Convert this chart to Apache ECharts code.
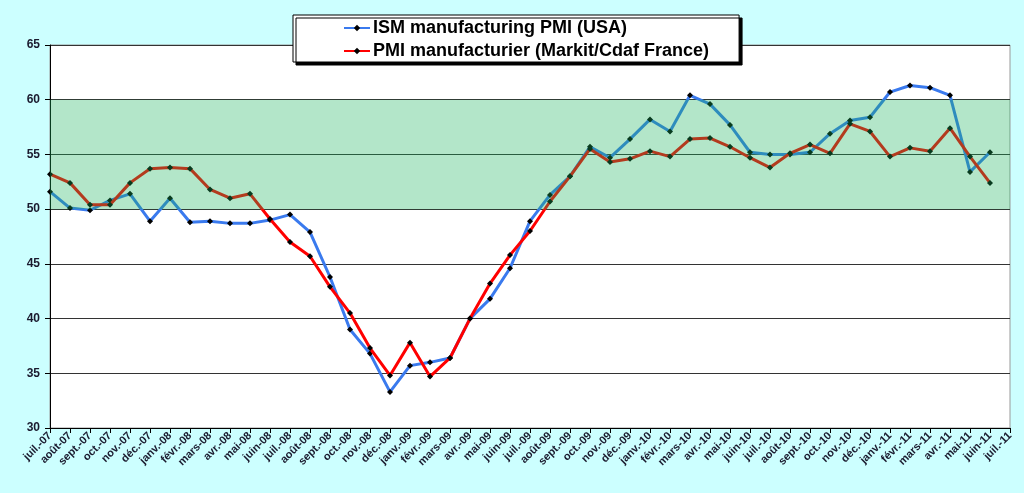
<!DOCTYPE html>
<html><head><meta charset="utf-8">
<script src="https://cdn.jsdelivr.net/npm/echarts@6/dist/echarts.min.js"></script>
<style>html,body{margin:0;padding:0;background:#CCFFFF;}#c{width:1024px;height:493px;}</style>
</head><body><div id="c"></div>
<script>
var months = ['juil.-07','août-07','sept.-07','oct.-07','nov.-07','déc.-07','janv.-08','févr.-08','mars-08','avr.-08','mai-08','juin-08','juil.-08','août-08','sept.-08','oct.-08','nov.-08','déc.-08','janv.-09','févr.-09','mars-09','avr.-09','mai-09','juin-09','juil.-09','août-09','sept.-09','oct.-09','nov.-09','déc.-09','janv.-10','févr.-10','mars-10','avr.-10','mai-10','juin-10','juil.-10','août-10','sept.-10','oct.-10','nov.-10','déc.-10','janv.-11','févr.-11','mars-11','avr.-11','mai-11','juin-11','juil.-11'];
var ismUSA = [51.6,50.1,49.9,50.8,51.4,48.9,51.0,48.8,48.9,48.7,48.7,49.0,49.5,47.9,43.8,39.0,36.8,33.3,35.7,36.0,36.4,40.0,41.8,44.6,48.9,51.3,53.0,55.7,54.7,56.4,58.2,57.1,60.4,59.6,57.7,55.2,55.0,55.0,55.2,56.9,58.1,58.4,60.7,61.3,61.1,60.4,53.4,55.2,null];
var pmiFrance = [53.2,52.4,50.4,50.4,52.4,53.7,53.8,53.7,51.8,51.0,51.4,49.1,47.0,45.7,42.9,40.5,37.3,34.8,37.8,34.7,36.4,40.0,43.2,45.8,48.0,50.7,53.0,55.5,54.3,54.6,55.3,54.8,56.4,56.5,55.7,54.7,53.8,55.1,55.9,55.1,57.8,57.1,54.8,55.6,55.3,57.4,54.8,52.4,null];
var band = [50, 60];

var chart = echarts.init(document.getElementById('c'));
var font = '"Liberation Sans", Arial, sans-serif';
chart.setOption({
  backgroundColor: '#CCFFFF',
  animation: false,
  grid: {left: 50, right: 14, top: 45, bottom: 65, show: true, backgroundColor: '#FFFFFF', borderColor: '#999999', borderWidth: 1},
  legend: {
    orient: 'vertical', left: 293, top: 15,
    padding: [4, 30, 2, 50],
    itemWidth: 26, itemHeight: 8, itemGap: 5,
    backgroundColor: '#FFFFFF', borderColor: '#000000', borderWidth: 1,
    shadowColor: '#000000', shadowOffsetX: 3, shadowOffsetY: 3, shadowBlur: 0.1,
    textStyle: {fontFamily: font, fontWeight: 'bold', fontSize: 18, color: '#000000', padding: [0,0,0,-2]},
    data: ['ISM manufacturing PMI (USA)', 'PMI manufacturier (Markit/Cdaf France)']
  },
  xAxis: {
    type: 'category', data: months, boundaryGap: false,
    axisLine: {lineStyle: {color: '#000000', width: 1}},
    axisTick: {show: true, interval: 0, length: 5, lineStyle: {color: '#000000'}},
    axisLabel: {interval: 0, rotate: 45, fontFamily: font, fontWeight: 'bold', fontSize: 11, color: '#1a1a2e', margin: 6},
    splitLine: {show: false}
  },
  yAxis: {
    type: 'value', min: 30, max: 65, interval: 5,
    axisLine: {show: true, lineStyle: {color: '#000000', width: 1}},
    axisTick: {show: true, length: 5, lineStyle: {color: '#000000'}},
    axisLabel: {fontFamily: font, fontWeight: 'bold', fontSize: 12, color: '#1a1a2e', margin: 10},
    splitLine: {show: true, lineStyle: {color: '#333333', width: 1}}
  },
  series: [
    {name: 'ISM manufacturing PMI (USA)', type: 'line', data: ismUSA, z: 2,
     lineStyle: {color: '#3A7AEE', width: 3}, itemStyle: {color: '#000000'},
     symbol: 'diamond', symbolSize: 6, showSymbol: true},
    {name: 'PMI manufacturier (Markit/Cdaf France)', type: 'line', data: pmiFrance, z: 3,
     lineStyle: {color: '#FF0000', width: 3}, itemStyle: {color: '#000000'},
     symbol: 'diamond', symbolSize: 6, showSymbol: true},
    {name: 'band', type: 'line', data: [], z: 10, silent: true,
     markArea: {silent: true, z: 20, itemStyle: {color: 'rgba(25,180,90,0.33)'},
       data: [[{yAxis: band[0]}, {yAxis: band[1]}]]}}
  ]
});
</script></body></html>
